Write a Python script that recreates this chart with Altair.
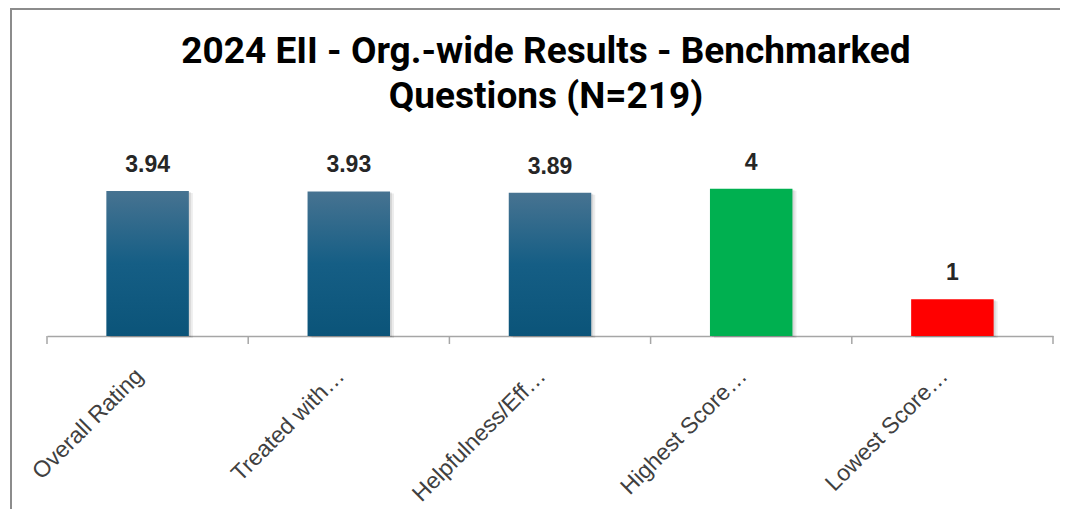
import altair as alt
import pandas as pd

categories = ["Overall Rating", "Treated with…", "Helpfulness/Eff…", "Highest Score…", "Lowest Score…"]
values = [3.94, 3.93, 3.89, 4, 1]
kinds = ["score", "score", "score", "highest", "lowest"]
value_labels = ["3.94", "3.93", "3.89", "4", "1"]
title_lines = ["2024 EII - Org.-wide Results - Benchmarked", "Questions (N=219)"]

df = pd.DataFrame({"category": categories, "value": values, "kind": kinds, "label": value_labels})

W, H = 1006, 184
sort = categories

axis = alt.Axis(ticks=False, labelAngle=-45, labelAlign="right", labelBaseline="middle",
                labelFont="Liberation Sans", labelFontSize=23, labelColor="#404040",
                labelPadding=36, labelOffset=-8, labelLimit=400,
                domainColor="#a6a6a6", domainWidth=1.5)
xenc = alt.X("category:N", sort=sort, title=None,
             scale=alt.Scale(paddingInner=0, paddingOuter=0), axis=axis)
yenc = alt.Y("value:Q", scale=alt.Scale(domain=[0, 5]), axis=None)

base = alt.Chart(df).encode(x=xenc, y=yenc)

grad = alt.Gradient(gradient="linear", x1=0, x2=0, y1=0, y2=1,
                    stops=[alt.GradientStop(color="#477391", offset=0),
                           alt.GradientStop(color="#155e85", offset=0.5),
                           alt.GradientStop(color="#0b5479", offset=1)])

shadow1 = base.mark_bar(width=alt.RelativeBandSize(0.41), color="#000000", opacity=0.07,
                        xOffset=4, yOffset=2)
shadow2 = base.mark_bar(width=alt.RelativeBandSize(0.41), color="#000000", opacity=0.09,
                        xOffset=2, yOffset=1)
blue = base.transform_filter(alt.datum.kind == "score").mark_bar(
    width=alt.RelativeBandSize(0.41), color=grad)
colored = base.transform_filter(alt.datum.kind != "score").mark_bar(
    width=alt.RelativeBandSize(0.41)).encode(
    color=alt.Color("kind:N", scale=alt.Scale(domain=["highest", "lowest"], range=["#00b050", "#ff0000"]), legend=None))
text = base.mark_text(dy=-19, fontSize=23, fontWeight="bold", font="Liberation Sans",
                      color="#262626", baseline="alphabetic").encode(text="label:N")

ticks = alt.Chart(df).mark_rule(color="#a6a6a6", strokeWidth=1.5).encode(
    x=alt.X("category:N", sort=sort, bandPosition=0, title=None, axis=axis),
    y=alt.value(H), y2=alt.value(H + 8))
end_tick = alt.Chart(df).transform_filter(alt.datum.category == categories[-1]).mark_rule(
    color="#a6a6a6", strokeWidth=1.5).encode(
    x=alt.X("category:N", sort=sort, bandPosition=1, title=None, axis=axis),
    y=alt.value(H), y2=alt.value(H + 8))

frame = pd.DataFrame({"k": [0]})
border_left = alt.Chart(frame).mark_rule(color="#8c8c8c", strokeWidth=2).encode(
    x=alt.value(-36), x2=alt.value(-36), y=alt.value(-143), y2=alt.value(H + 200))
border_top = alt.Chart(frame).mark_rule(color="#8c8c8c", strokeWidth=2).encode(
    x=alt.value(-37), x2=alt.value(W + 40), y=alt.value(-143), y2=alt.value(-143))

title = alt.Chart(frame).mark_text(
    text=title_lines, font="Roboto", fontSize=37, fontWeight="bold", color="#000000",
    align="center", baseline="middle", lineHeight=45).encode(
    x=alt.value(W / 2 - 4), y=alt.value(-100))

chart = alt.layer(border_left, border_top, shadow1, shadow2, blue, colored, text, ticks,
                  end_tick, title).properties(
    width=W, height=H,
    autosize=alt.AutoSizeParams(type="none"),
    padding={"left": 39, "top": 144, "right": 7, "bottom": 173},
).configure_view(stroke=None)

chart.save("out.html", embed_options={"renderer": "svg", "actions": False})
